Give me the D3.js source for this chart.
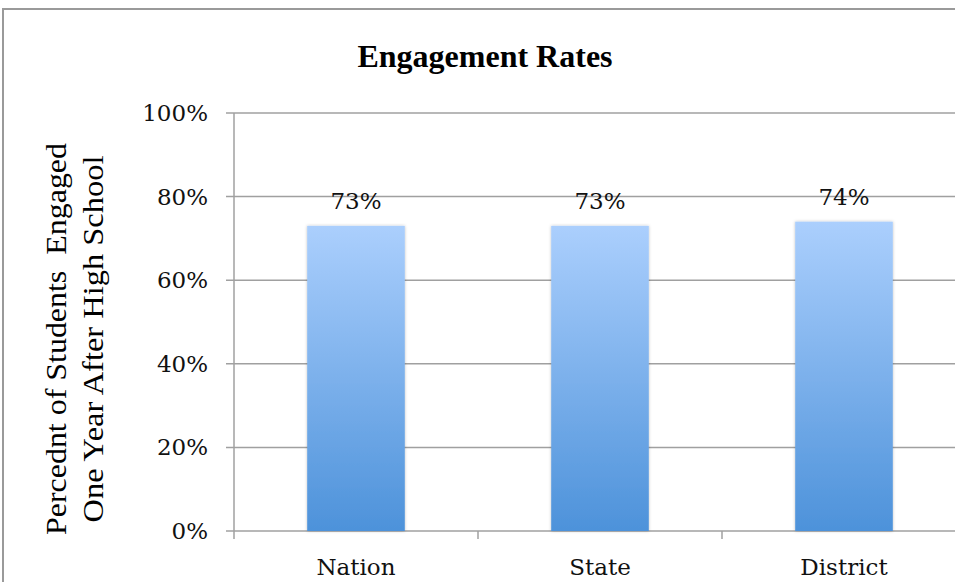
<!DOCTYPE html>
<html><head><meta charset="utf-8">
<script src="https://cdn.jsdelivr.net/npm/d3@7"></script>
<style>html,body{margin:0;padding:0;background:#fff;overflow:hidden;} svg{display:block;}</style>
</head><body>
<script>
const categories = ["Nation", "State", "District"];
const values = [0.73, 0.73, 0.74];
const valueLabels = ["73%", "73%", "74%"];
const yTicks = [0, 0.2, 0.4, 0.6, 0.8, 1.0];
const title = "Engagement Rates";
const yTitle = ["Percednt of Students  Engaged", "One Year After High School"];

const W = 955, H = 582;
const svg = d3.select("body").append("svg").attr("width", W).attr("height", H);

const defs = svg.append("defs");
const grad = defs.append("linearGradient").attr("id", "bg").attr("x1", 0).attr("y1", 0).attr("x2", 0).attr("y2", 1);
grad.append("stop").attr("offset", "0%").attr("stop-color", "#abcffd");
grad.append("stop").attr("offset", "100%").attr("stop-color", "#4d92da");
const f = defs.append("filter").attr("id", "sh").attr("x", "-10%").attr("y", "-10%").attr("width", "120%").attr("height", "120%");
f.append("feDropShadow").attr("dx", 0).attr("dy", 0).attr("stdDeviation", 1.5).attr("flood-color", "#000").attr("flood-opacity", 0.25);

// frame (top and left edges only visible)
svg.append("path").attr("d", `M3,${H}V9H${W}`)
  .attr("fill", "none").attr("stroke", "#9a9a9a").attr("stroke-width", 2);

const x0 = 234, x1 = 966, yTop = 113, yBot = 531;
const x = d3.scaleBand().domain(categories).range([x0, x1]).padding(0);
const y = d3.scaleLinear().domain([0, 1]).range([yBot, yTop]);

// grid
svg.append("g").selectAll("line").data(yTicks).join("line")
  .attr("x1", x0 - 8).attr("x2", W).attr("y1", d => y(d)).attr("y2", d => y(d))
  .attr("stroke", "#a0a0a0").attr("stroke-width", 1.5);

// y axis line
svg.append("line").attr("x1", x0).attr("x2", x0).attr("y1", yTop).attr("y2", yBot + 8)
  .attr("stroke", "#a0a0a0").attr("stroke-width", 1.5);

// x ticks
svg.append("g").selectAll("line").data(categories.slice(1)).join("line")
  .attr("x1", d => x(d)).attr("x2", d => x(d)).attr("y1", yBot).attr("y2", yBot + 8)
  .attr("stroke", "#a0a0a0").attr("stroke-width", 1.5);

// y tick labels
svg.append("g").selectAll("text").data(yTicks).join("text")
  .attr("x", 208).attr("y", d => y(d) + 8).attr("text-anchor", "end")
  .attr("font-family", "DejaVu Serif").attr("font-size", 23).attr("fill", "#111")
  .text(d => d3.format(".0%")(d));

// bars
const bw = x.bandwidth() * 0.4;
svg.append("g").selectAll("rect").data(categories).join("rect")
  .attr("x", d => x(d) + (x.bandwidth() - bw) / 2)
  .attr("y", (d, i) => y(values[i]))
  .attr("width", bw)
  .attr("height", (d, i) => yBot - y(values[i]))
  .attr("fill", "url(#bg)").attr("filter", "url(#sh)");

// value labels
svg.append("g").selectAll("text").data(categories).join("text")
  .attr("x", d => x(d) + x.bandwidth() / 2)
  .attr("y", (d, i) => y(values[i]) - 17)
  .attr("text-anchor", "middle")
  .attr("font-family", "DejaVu Serif").attr("font-size", 23).attr("fill", "#111")
  .text((d, i) => valueLabels[i]);

// x labels
svg.append("g").selectAll("text").data(categories).join("text")
  .attr("x", d => x(d) + x.bandwidth() / 2).attr("y", 575)
  .attr("text-anchor", "middle")
  .attr("font-family", "DejaVu Serif").attr("font-size", 23).attr("fill", "#111")
  .text(d => d);

// title
svg.append("text").attr("x", 485).attr("y", 67).attr("text-anchor", "middle")
  .attr("font-family", "Liberation Serif").attr("font-weight", "bold").attr("font-size", 32)
  .attr("fill", "#000").text(title);

// y title
const yt = svg.append("g").attr("transform", "translate(0,339) rotate(-90)");
const ytLen = [392, 367];
yTitle.forEach((t, i) => yt.append("text").attr("x", 0).attr("y", 66 + i * 37)
  .attr("text-anchor", "middle").attr("font-family", "Liberation Serif").attr("font-size", 29)
  .attr("fill", "#000").attr("textLength", ytLen[i]).attr("lengthAdjust", "spacingAndGlyphs")
  .style("white-space", "pre").text(t));
</script>
</body></html>
